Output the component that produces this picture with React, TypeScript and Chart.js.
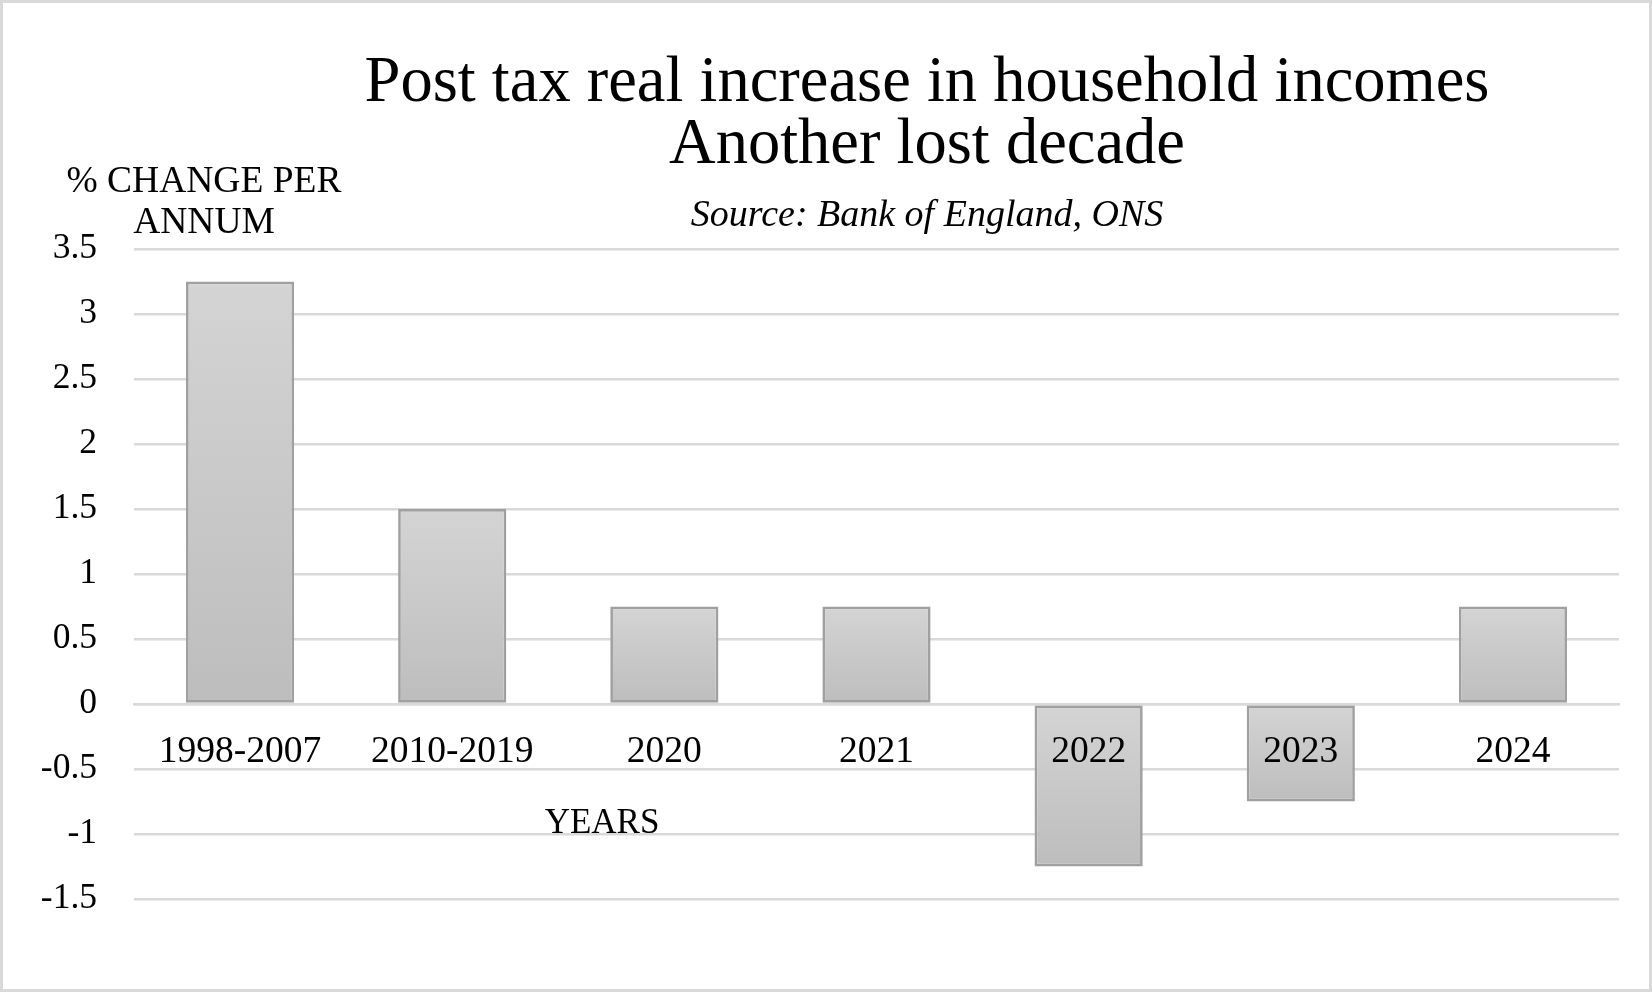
import React, { useEffect, useRef } from "react";
import { Chart, registerables } from "chart.js";

Chart.register(...registerables);

const categories: string[] = ["1998-2007", "2010-2019", "2020", "2021", "2022", "2023", "2024"];
const values: number[] = [3.25, 1.5, 0.75, 0.75, -1.25, -0.75, 0.75];
const yMin = -1.5;
const yMax = 3.5;
const yStep = 0.5;
const titleLines: string[] = ["Post tax real increase in household incomes", "Another lost decade"];
const subtitleText = "Source: Bank of England, ONS";
const yAxisTitleLines: string[] = ["% CHANGE PER", "ANNUM"];
const xAxisTitle = "YEARS";

const FONT = '"Liberation Serif", "Times New Roman", serif';

const textPlugin = {
  id: "customText",
  afterDraw(chart: any) {
    const ctx = chart.ctx as CanvasRenderingContext2D;
    ctx.save();
    ctx.fillStyle = "#000000";
    ctx.textAlign = "center";
    ctx.textBaseline = "alphabetic";
    ctx.font = `64.5px ${FONT}`;
    ctx.fillText(titleLines[0], 924, 98);
    ctx.fillText(titleLines[1], 924, 160);
    ctx.font = `italic 38px ${FONT}`;
    ctx.fillText(subtitleText, 924, 223);
    ctx.font = `37.5px ${FONT}`;
    ctx.fillText(yAxisTitleLines[0], 201, 189);
    ctx.fillText(yAxisTitleLines[1], 201, 230);
    ctx.font = `35px ${FONT}`;
    ctx.fillText(xAxisTitle, 599, 830);
    ctx.restore();
  },
};

export default function App() {
  const canvasRef = useRef<HTMLCanvasElement | null>(null);

  useEffect(() => {
    document.body.style.margin = "0";
    const canvas = canvasRef.current;
    if (!canvas) return;
    const chart = new Chart(canvas, {
      type: "bar",
      data: {
        labels: categories,
        datasets: [
          {
            data: values,
            backgroundColor: (c: any) => {
              const ch = c.chart;
              if (!ch.chartArea || c.type !== "data") return "#c9c9c9";
              const ys = ch.scales.y;
              const p0 = ys.getPixelForValue(0);
              const p1 = ys.getPixelForValue(c.raw as number);
              const top = Math.min(p0, p1);
              const bot = Math.max(p0, p1);
              const g = ch.ctx.createLinearGradient(0, top, 0, bot + 0.01);
              g.addColorStop(0, "#d4d4d4");
              g.addColorStop(1, "#bdbdbd");
              return g;
            },
            borderColor: "#a0a0a0",
            borderWidth: 2.7,
            borderSkipped: false,
            categoryPercentage: 1,
            barPercentage: 0.51,
          },
        ],
      },
      options: {
        animation: false,
        responsive: false,
        devicePixelRatio: 1,
        layout: { padding: { left: 0, right: 30, top: 246, bottom: 90 } },
        plugins: {
          legend: { display: false },
          title: { display: false },
          tooltip: { enabled: false },
        },
        scales: {
          x: {
            type: "category",
            position: { y: 0 } as any,
            grid: { display: false, drawTicks: false },
            border: { display: true, color: "#d9d9d9", width: 2.5, z: 1 } as any,
            ticks: {
              z: 2,
              color: "#000000",
              font: { family: FONT, size: 37.5 },
              padding: 26,
              maxRotation: 0,
              autoSkip: false,
            } as any,
          },
          y: {
            min: yMin,
            max: yMax,
            afterFit: (scale: any) => {
              scale.width = 131;
            },
            grid: { color: "#d9d9d9", lineWidth: 2.5, drawTicks: false },
            border: { display: false },
            ticks: {
              stepSize: yStep,
              color: "#000000",
              font: { family: FONT, size: 35.5 },
              padding: 37,
              callback: (v: any) => String(v),
            },
          },
        },
      },
      plugins: [textPlugin],
    });
    return () => chart.destroy();
  }, []);

  return (
    <div
      style={{
        width: 1652,
        height: 992,
        boxSizing: "border-box",
        border: "3px solid #d9d9d9",
        background: "#ffffff",
        overflow: "hidden",
      }}
    >
      <canvas ref={canvasRef} width={1646} height={986} style={{ display: "block", width: 1646, height: 986 }} />
    </div>
  );
}
